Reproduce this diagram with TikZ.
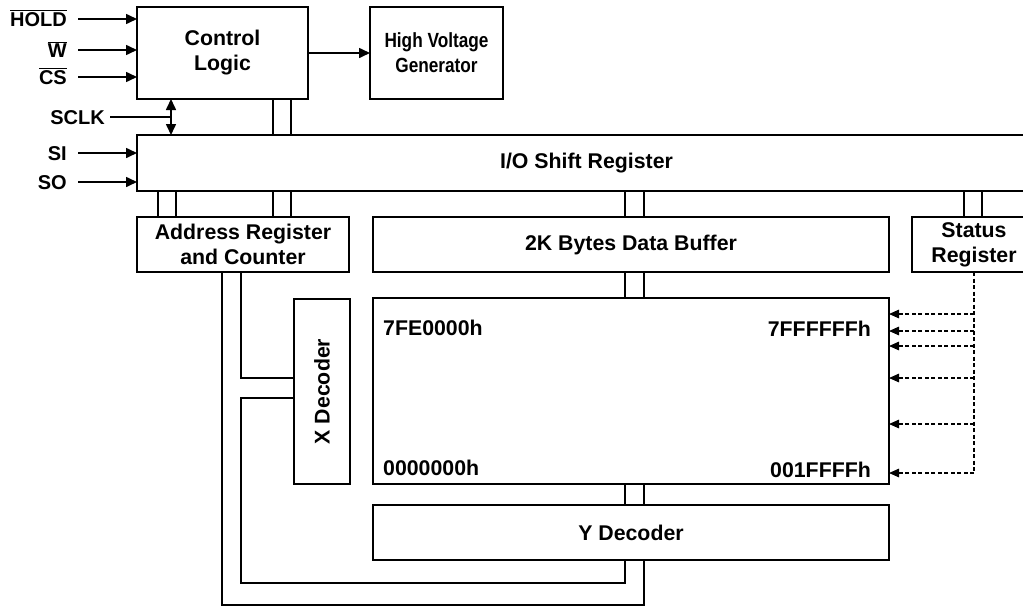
\documentclass[tikz,border=0pt]{standalone}
\usepackage{fontspec}
\setmainfont{Liberation Sans}
\newfontfamily\narrowfont{Liberation Sans}[FakeStretch=0.84]
\usetikzlibrary{arrows.meta,calc}
\begin{document}
\begin{tikzpicture}[x=1pt,y=-1pt,
  every node/.style={font=\bfseries\fontsize{21.3}{25}\selectfont},
  blk/.style={draw, line width=1.3pt, inner sep=0pt, outer sep=0pt, align=center},
  lbl/.style={inner sep=0pt, anchor=base east, font=\bfseries\fontsize{20}{24}\selectfont},
  memtxt/.style={inner sep=0pt, font=\bfseries\fontsize{21.3}{25}\selectfont},
  wire/.style={line width=1.6pt},
  tip/.tip={Triangle[length=11pt,width=10pt]},
  arr/.style={line width=1.6pt, -tip},
  darr/.style={line width=1.3pt, -{Triangle[length=10pt,width=8.5pt]}},
  dline/.style={dash pattern=on 4pt off 2.5pt}]
\useasboundingbox (0,0) rectangle (1023,608);
\clip (0,0) rectangle (1023,608);

% blocks
\node[blk, minimum width=171pt, minimum height=92pt] (ctrl) at (222.5,53) {Control\\Logic};
\node[blk, minimum width=133pt, minimum height=92pt, font=\narrowfont\bfseries\fontsize{20.5}{25}\selectfont] (hvg) at (436.5,53) {High Voltage\\Generator};
\node[blk, minimum width=899pt, minimum height=56pt] (io) at (586.5,163) {I/O Shift Register};
\node[blk, minimum width=212pt, minimum height=55pt] (addr) at (243,244.5) {Address Register\\and Counter};
\node[blk, minimum width=516pt, minimum height=55pt] (buf) at (631,244.5) {2K Bytes Data Buffer};
\node[blk, minimum width=124pt, minimum height=55pt] (stat) at (974,244.5) {Status\\Register};
\node[blk, minimum width=56pt, minimum height=185pt] (xdec) at (322,391.5) {};
\node[rotate=90, inner sep=0pt] (xdectxt) at (xdec.center) {X Decoder};
\node[blk, minimum width=516pt, minimum height=186pt] (mem) at (631,391) {};
\node[blk, minimum width=516pt, minimum height=55pt] (ydec) at (631,532.5) {Y Decoder};

% memory labels
\node[memtxt, anchor=base west] (mlt) at (383,335) {7FE0000h};
\node[memtxt, anchor=base east] (mrt) at (871,336) {7FFFFFFh};
\node[memtxt, anchor=base west] (mlb) at (383,475) {0000000h};
\node[memtxt, anchor=base east] (mrb) at (871,477) {001FFFFh};

% input labels and arrows
\node[lbl] (hold) at (67,26) {$\overline{\hbox{HOLD}}$};
\node[lbl] (w) at (67,57) {$\overline{\hbox{W}}$};
\node[lbl] (cs) at (67,84) {$\overline{\hbox{CS}}$};
\node[lbl] (sclk) at (105,124) {SCLK};
\node[lbl] (si) at (67,160) {SI};
\node[lbl] (so) at (67,189) {SO};
\coordinate (holdA) at (78,19);
\coordinate (wA) at (78,50);
\coordinate (csA) at (78,77);
\coordinate (sclkA) at (110,117);
\coordinate (siA) at (78,153);
\coordinate (soA) at (78,182);
\coordinate (clk) at (171,117);
\draw[arr] (holdA) -- (ctrl.west |- holdA);
\draw[arr] (wA) -- (ctrl.west |- wA);
\draw[arr] (csA) -- (ctrl.west |- csA);
\draw[arr] (siA) -- (io.west |- siA);
\draw[arr] (soA) -- (io.west |- soA);
\draw[wire] (sclkA) -- (clk);
\draw[line width=1.6pt, tip-tip] (clk |- ctrl.south) -- (clk |- io.north);

% control -> HV generator
\draw[arr] (ctrl.east) -- (hvg.west);

% buses
\foreach \x in {273,291} {
  \draw[wire] (\x,0 |- ctrl.south) -- (\x,0 |- io.north);
  \draw[wire] (\x,0 |- io.south) -- (\x,0 |- addr.north);
}
\foreach \x in {158,176} {
  \draw[wire] (\x,0 |- io.south) -- (\x,0 |- addr.north);
}
\foreach \x in {625,644} {
  \draw[wire] (\x,0 |- io.south) -- (\x,0 |- buf.north);
  \draw[wire] (\x,0 |- buf.south) -- (\x,0 |- mem.north);
  \draw[wire] (\x,0 |- mem.south) -- (\x,0 |- ydec.north);
}
\foreach \x in {964,982} {
  \draw[wire] (\x,0 |- io.south) -- (\x,0 |- stat.north);
}

% address -> decoders
\draw[wire] (241,0 |- addr.south) -- (241,378) -- (xdec.west |- 0,378);
\draw[wire] (xdec.west |- 0,398) -- (241,398) -- (241,583) -- (625,583) -- (625,0 |- ydec.south);
\draw[wire] (222,0 |- addr.south) -- (222,605) -- (644,605) -- (644,0 |- ydec.south);

% status register -> memory (dashed)
\draw[line width=1.3pt, dline] (stat.south) -- (974,473);
\foreach \y in {314,331,346,378,424,473} {
  \draw[darr, dline] (974,\y) -- (mem.east |- 0,\y);
}
\end{tikzpicture}
\end{document}
